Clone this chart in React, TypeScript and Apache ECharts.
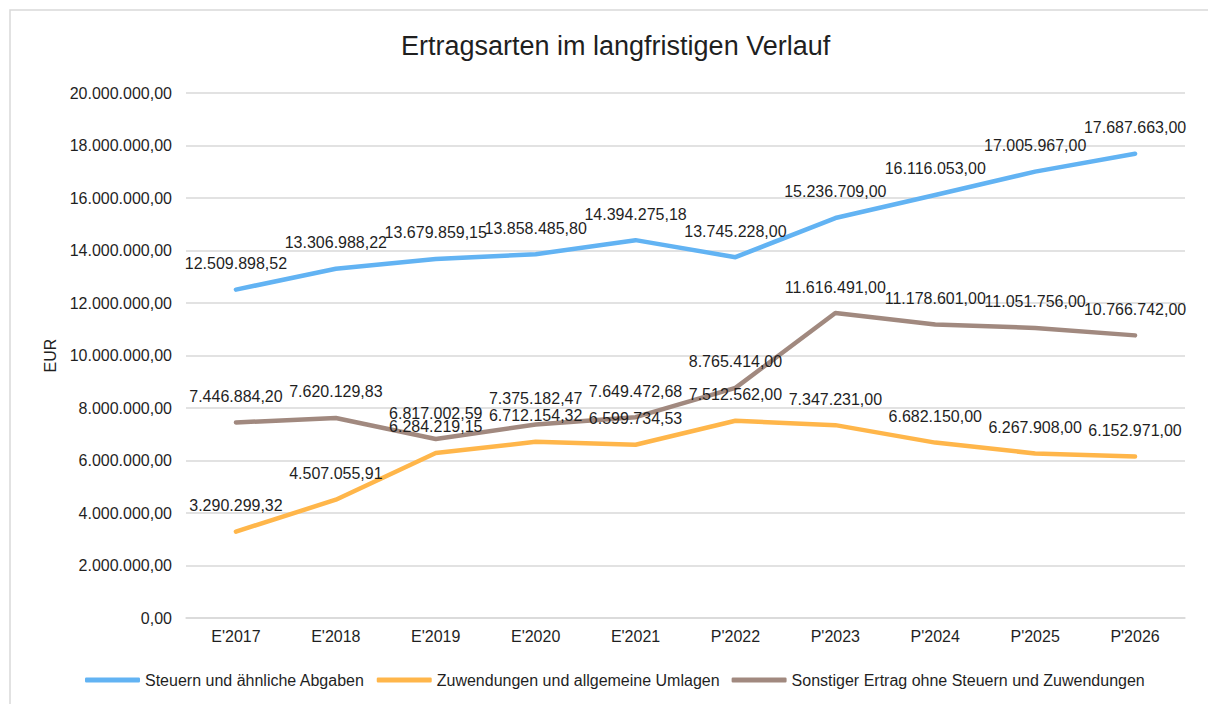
import React, { useEffect, useRef } from "react";
import * as echarts from "echarts";

const categories = ["E'2017", "E'2018", "E'2019", "E'2020", "E'2021", "P'2022", "P'2023", "P'2024", "P'2025", "P'2026"];
const steuern = [12509898.52, 13306988.22, 13679859.15, 13858485.8, 14394275.18, 13745228.0, 15236709.0, 16116053.0, 17005967.0, 17687663.0];
const zuwendungen = [3290299.32, 4507055.91, 6284219.15, 6712154.32, 6599734.53, 7512562.0, 7347231.0, 6682150.0, 6267908.0, 6152971.0];
const sonstiger = [7446884.2, 7620129.83, 6817002.59, 7375182.47, 7649472.68, 8765414.0, 11616491.0, 11178601.0, 11051756.0, 10766742.0];
const seriesNames = [
  "Steuern und ähnliche Abgaben",
  "Zuwendungen und allgemeine Umlagen",
  "Sonstiger Ertrag ohne Steuern und Zuwendungen",
];
const title = "Ertragsarten im langfristigen Verlauf";
const axisName = "EUR";
// label offsets (style only) for crowded labels in the first series
const steuernLabelShift = [0, -45, -41, -35, 0, 0, 0, 0, 0, 0];

function fmtDE(v: number): string {
  const neg = v < 0;
  const abs = Math.abs(v);
  const fixed = abs.toFixed(2);
  const [intPart, dec] = fixed.split(".");
  const withDots = intPart.replace(/\B(?=(\d{3})+(?!\d))/g, ".");
  return (neg ? "-" : "") + withDots + "," + dec;
}

const FONT = "'Liberation Sans', Arial, sans-serif";
const TEXT = "#1f1f1f";

export default function App() {
  const ref = useRef<HTMLDivElement>(null);
  useEffect(() => {
    if (!ref.current) return;
    const chart = echarts.init(ref.current, undefined, { renderer: "svg" });
    const colors = ["#62B3F3", "#FFB64A", "#A1897F"];
    const datasets = [steuern, zuwendungen, sonstiger];
    const series = datasets.map((arr, si) => ({
      name: seriesNames[si],
      type: "line",
      data: arr.map((v, i) => {
        const d: any = { value: v };
        if (si === 0 && steuernLabelShift[i] !== 0) {
          d.label = { offset: [steuernLabelShift[i], 1] };
        }
        return d;
      }),
      showSymbol: true,
      symbol: "circle",
      symbolSize: 0.1,
      lineStyle: { width: 4.5, color: colors[si], cap: "round", join: "round" },
      itemStyle: { color: colors[si], borderWidth: 0 },
      label: {
        show: true,
        position: "top",
        distance: 18,
        fontSize: 16,
        fontFamily: FONT,
        color: TEXT,
        formatter: (p: any) => fmtDE(p.value),
      },
      labelLayout: { hideOverlap: false },
      emphasis: { disabled: true },
    }));
    chart.setOption({
      animation: false,
      color: colors,
      title: {
        text: title,
        left: 396,
        top: 27,
        textStyle: { fontSize: 27, fontWeight: "normal", fontFamily: FONT, color: TEXT },
      },
      grid: { left: 186, right: 23, top: 93, bottom: 86, containLabel: false },
      legend: {
        bottom: 11,
        left: 80,
        icon: "roundRect",
        itemWidth: 55,
        itemHeight: 5,
        itemGap: 12,
        textStyle: { fontSize: 16, fontFamily: FONT, color: TEXT },
        data: seriesNames,
      },
      xAxis: {
        type: "category",
        data: categories,
        boundaryGap: true,
        axisLine: { show: true, lineStyle: { color: "#d9d9d9", width: 1.5 } },
        axisTick: { show: false },
        axisLabel: { fontSize: 16, fontFamily: FONT, color: TEXT, margin: 10 },
      },
      yAxis: {
        type: "value",
        min: 0,
        max: 20000000,
        interval: 2000000,
        name: axisName,
        nameLocation: "middle",
        nameRotate: 90,
        nameGap: 124,
        nameTextStyle: { fontSize: 16, fontFamily: FONT, color: TEXT },
        axisLine: { show: false },
        axisTick: { show: false },
        axisLabel: { fontSize: 16, fontFamily: FONT, color: TEXT, margin: 14, formatter: (v: number) => fmtDE(v) },
        splitLine: { show: true, lineStyle: { color: "#d9d9d9", width: 1.5 } },
      },
      graphic: [
        {
          type: "rect",
          shape: { x: 10, y: 10, width: 1210, height: 710 },
          style: { fill: "none", stroke: "#d9d9d9", lineWidth: 1.5 },
          silent: true,
        },
      ],
      series,
    });
    return () => chart.dispose();
  }, []);
  return <div ref={ref} style={{ position: "fixed", left: 0, top: 0, width: 1208, height: 704, background: "#fff" }} />;
}
